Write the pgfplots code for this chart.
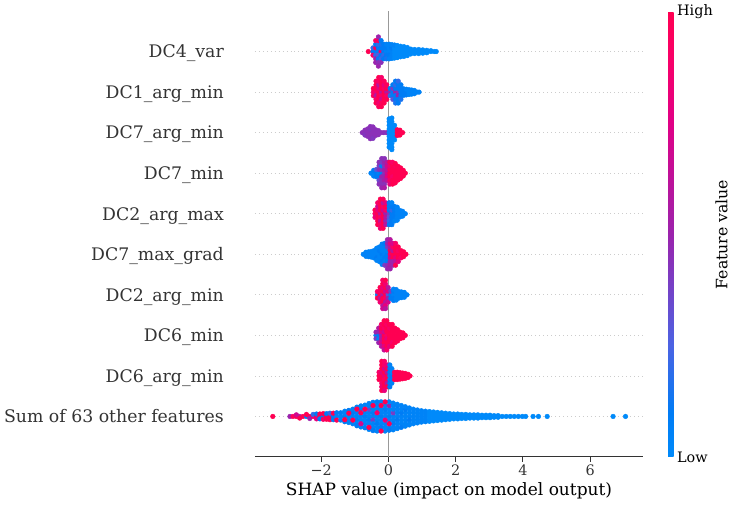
\documentclass[border=0pt]{standalone}
\usepackage{pgfplots}
\pgfplotsset{compat=1.18}
\usepackage{fontspec}
\setmainfont{DejaVu Serif}
\definecolor{axc}{HTML}{333333}
\definecolor{gridc}{HTML}{CCCCCC}
\definecolor{zeroc}{HTML}{999999}
\pgfplotsset{
  bees/.style={scatter, only marks, scatter src=explicit, mark=*, mark size=2.35pt,
    scatter/use mapped color={draw=mapped color, fill=mapped color},
    mark options={line width=0.4pt}},
}
\begin{document}
\begin{tikzpicture}
\begin{axis}[
  name=main,
  scale only axis,
  width=388pt, height=446pt,
  xmin=-3.97, xmax=7.57, ymin=-1, ymax=10,
  axis x line=bottom,
  axis y line=left,
  x axis line style={-, draw=axc, line width=1pt},
  y axis line style={draw=none},
  xtick={-2,0,2,4,6},
  xticklabels={−2,0,2,4,6},
  xtick align=outside,
  ytick align=inside,
  major tick length=4.6pt,
  xtick style={draw=axc, line width=1pt},
  ytick={0,1,2,3,4,5,6,7,8,9},
  yticklabels={Sum of 63 other features,DC6\_arg\_min,DC6\_min,DC2\_arg\_min,DC7\_max\_grad,DC2\_arg\_max,DC7\_min,DC7\_arg\_min,DC1\_arg\_min,DC4\_var},
  ytick style={draw=none},
  yticklabel style={font=\fontsize{17.3}{20}\selectfont, text=axc, anchor=base east, inner sep=0pt, xshift=-31pt, yshift=-6.3pt},
  xticklabel style={font=\fontsize{14.4}{17}\selectfont, text=axc},
  xlabel={SHAP value (impact on model output)},
  xlabel style={font=\fontsize{17}{20}\selectfont, text=black},
  ymajorgrids,
  grid style={draw=gridc, line width=0.65pt, dash pattern=on 0.65pt off 3.3pt},
  colormap={shap}{rgb255(0cm)=(0,138,250); rgb255(1cm)=(0,124,245); rgb255(2.5cm)=(75,99,227); rgb255(5cm)=(155,35,173); rgb255(7.5cm)=(224,0,134); rgb255(9cm)=(249,0,103); rgb255(10cm)=(255,0,82)},
  point meta min=0, point meta max=1,
  colorbar right,
  colorbar shift/.style={},
  colorbar style={
    at={(parent axis.north east)}, anchor=north west,
    xshift=25pt, yshift=-1pt,
    scale only axis,
    width=5.6pt, height=445pt,
    ytick={0,1}, yticklabels={Low,High},
    major tick length=0pt,
    axis line style={draw=none},
    yticklabel style={font=\fontsize{14.4}{17}\selectfont, text=black},
    ylabel={Feature value},
    every axis y label/.style={at={(axis description cs:1,0.5)}, anchor=center, xshift=48pt, rotate=90, font=\fontsize{15.7}{18}\selectfont, text=black},
  },
]
\addplot[draw=zeroc, line width=1.3pt, forget plot] coordinates {(0,-1) (0,10)};
% DC4_var
\addplot[bees] table[meta=c] {
x y c
-0.60 9.00 1
-0.46 9.00 0.1
-0.46 9.09 0.2
-0.46 8.91 0.9
-0.38 9.00 0.1
-0.38 9.09 0.95
-0.38 8.91 0.2
-0.38 9.18 0.1
-0.38 8.82 0.5
-0.38 9.27 0.9
-0.38 8.73 0.5
-0.30 9.00 0.1
-0.30 9.09 0.1
-0.30 8.91 0.3
-0.30 9.18 0.2
-0.30 8.82 0.1
-0.30 9.27 0.95
-0.30 8.73 0.45
-0.30 9.36 0.5
-0.30 8.64 0.5
-0.22 9.00 0.9
-0.22 9.09 0.1
-0.22 8.91 0.1
-0.22 9.18 0.15
-0.22 8.82 0.2
-0.22 9.27 0.1
-0.22 8.73 0.45
-0.14 9.00 0.1
-0.14 9.09 0.1
-0.14 8.91 0.2
-0.14 9.18 0.1
-0.14 8.82 0.1
-0.06 9.00 0.05
-0.06 9.09 0.1
-0.06 8.91 0.1
-0.06 9.18 0.05
-0.06 8.82 0.15
0.02 9.00 0.05
0.02 9.09 0.05
0.02 8.91 0.1
0.02 9.18 0.05
0.02 8.82 0.05
0.10 9.00 0.05
0.10 9.09 0.1
0.10 8.91 0.05
0.10 9.17 0.05
0.10 8.83 0.05
0.18 9.00 0
0.18 9.08 0
0.18 8.92 0
0.18 9.16 0.05
0.18 8.84 0
0.26 9.00 0
0.26 9.08 0
0.26 8.92 0
0.26 9.15 0
0.26 8.85 0
0.36 9.00 0
0.36 9.07 0
0.36 8.93 0
0.36 9.13 0
0.36 8.87 0
0.46 9.00 0
0.46 9.07 0
0.46 8.93 0
0.46 9.12 0
0.46 8.88 0
0.56 9.00 0
0.56 9.06 0
0.56 8.94 0
0.56 9.10 0
0.56 8.90 0
0.66 9.00 0
0.66 9.06 0
0.66 8.94 0
0.78 9.00 0
0.78 9.05 0
0.78 8.95 0
0.90 9.00 0
0.90 9.05 0
0.90 8.95 0
1.02 9.00 0
1.02 9.04 0
1.02 8.96 0
1.14 9.00 0
1.14 9.03 0
1.14 8.97 0
1.26 9.00 0
1.26 9.02 0
1.36 9.00 0
1.42 9.00 0
};
% DC1_arg_min
\addplot[bees] table[meta=c] {
x y c
-0.45 8.00 0.9
-0.45 8.09 1
-0.45 7.91 0.95
-0.37 8.00 0.85
-0.37 8.09 1
-0.37 7.91 0.6
-0.37 8.18 1
-0.37 7.82 0.9
-0.37 8.27 0.95
-0.37 7.73 1
-0.29 8.00 1
-0.29 8.09 0.8
-0.29 7.91 1
-0.29 8.18 0.6
-0.29 7.82 1
-0.29 8.27 0.9
-0.29 7.73 0.85
-0.29 8.36 1
-0.29 7.64 0.95
-0.21 8.00 0.6
-0.21 8.09 1
-0.21 7.91 0.9
-0.21 8.18 1
-0.21 7.82 0.7
-0.21 8.27 1
-0.21 7.73 0.95
-0.21 8.36 0.9
-0.21 7.64 1
-0.13 8.00 1
-0.13 8.09 0.9
-0.13 7.91 1
-0.13 8.18 0.8
-0.13 7.82 1
-0.13 8.27 0.95
-0.13 7.73 1
-0.05 8.00 0.6
-0.05 8.09 1
-0.05 7.91 0.9
-0.05 8.18 0.95
-0.05 7.82 1
0.05 8.00 0.5
0.05 8.09 0.1
0.05 7.91 0.2
0.13 8.00 0.1
0.13 8.09 0.4
0.13 7.91 0.1
0.13 8.18 0.1
0.13 7.82 0.3
0.21 8.00 0.5
0.21 8.09 0.1
0.21 7.91 0.1
0.21 8.18 0.2
0.21 7.82 0.1
0.21 8.27 0.1
0.21 7.73 0.15
0.29 8.00 0.45
0.29 8.09 0.1
0.29 7.91 0.5
0.29 8.18 0.1
0.29 7.82 0.1
0.29 8.27 0.2
0.29 7.73 0.1
0.37 8.00 0.1
0.37 8.09 0.1
0.37 7.91 0.1
0.37 8.18 0.1
0.37 7.82 0.15
0.45 8.00 0.1
0.45 8.08 0.1
0.45 7.92 0.1
0.53 8.00 0.1
0.53 8.07 0.05
0.53 7.93 0.1
0.61 8.00 0.05
0.61 8.06 0.05
0.61 7.94 0.05
0.69 8.00 0.05
0.69 8.05 0.05
0.69 7.95 0.05
0.77 8.00 0.05
0.77 8.04 0.05
0.77 7.96 0.05
0.85 8.00 0.05
0.91 8.00 0.05
};
% DC7_arg_min
\addplot[bees] table[meta=c] {
x y c
-0.78 7.00 0.45
-0.70 7.00 0.45
-0.70 7.06 0.45
-0.70 6.94 0.42
-0.62 7.00 0.45
-0.62 7.09 0.45
-0.62 6.91 0.45
-0.54 7.00 0.45
-0.54 7.09 0.42
-0.54 6.91 0.45
-0.54 7.15 0.45
-0.54 6.85 0.45
-0.46 7.00 0.45
-0.46 7.09 0.45
-0.46 6.91 0.45
-0.46 7.14 0.45
-0.46 6.86 0.42
-0.38 7.00 0.45
-0.38 7.07 0.45
-0.38 6.93 0.45
-0.30 7.00 0.45
-0.30 7.05 0.45
-0.30 6.95 0.45
-0.22 7.00 0.45
-0.14 7.00 0.45
-0.06 7.00 0.45
0.02 7.00 0
0.02 7.09 0
0.02 6.91 0
0.02 7.18 0
0.02 6.82 0
0.02 7.27 0
0.02 6.73 0
0.02 7.34 0
0.02 6.64 0
0.10 7.00 0
0.10 7.09 0
0.10 6.91 0
0.10 7.18 0
0.10 6.82 0
0.10 7.27 0
0.10 6.73 0
0.10 7.36 0
0.10 6.64 0
0.10 6.58 0
0.18 7.00 0
0.18 7.09 0
0.18 6.91 0
0.18 7.18 0
0.18 6.82 0
0.26 7.00 1
0.26 7.07 1
0.26 6.93 1
0.34 7.00 1
0.34 7.06 1
0.34 6.94 1
0.42 7.00 1
};
% DC7_min
\addplot[bees] table[meta=c] {
x y c
-0.52 6.00 0.05
-0.44 6.00 0.05
-0.44 6.07 0.1
-0.44 5.93 0.05
-0.36 6.00 0.1
-0.36 6.09 0.3
-0.36 5.91 0.1
-0.28 6.00 0.05
-0.28 6.09 0.45
-0.28 5.91 0.1
-0.28 6.18 0.4
-0.28 5.82 0.35
-0.28 6.27 0.45
-0.28 5.73 0.45
-0.20 6.00 0.1
-0.20 6.09 0.45
-0.20 5.91 0.5
-0.20 6.18 0.1
-0.20 5.82 0.45
-0.20 6.27 0.4
-0.20 5.73 0.45
-0.20 6.36 0.45
-0.20 5.64 0.5
-0.12 6.00 0.45
-0.12 6.09 0.55
-0.12 5.91 0.5
-0.12 6.18 0.45
-0.12 5.82 0.55
-0.12 6.27 0.5
-0.12 5.73 0.45
-0.12 6.36 0.45
-0.12 5.64 0.55
-0.04 6.00 0.7
-0.04 6.09 0.6
-0.04 5.91 0.75
-0.04 6.18 0.7
-0.04 5.82 0.6
-0.04 6.27 0.6
0.04 6.00 1
0.04 6.09 0.95
0.04 5.91 1
0.04 6.18 0.85
0.04 5.82 0.9
0.04 6.27 1
0.04 5.73 0.8
0.12 6.00 1
0.12 6.09 1
0.12 5.91 0.9
0.12 6.18 1
0.12 5.82 1
0.12 6.27 0.9
0.12 5.73 1
0.20 6.00 1
0.20 6.09 1
0.20 5.91 1
0.20 6.18 0.95
0.20 5.82 1
0.20 6.24 1
0.20 5.76 1
0.28 6.00 1
0.28 6.09 1
0.28 5.91 1
0.28 6.17 1
0.28 5.83 1
0.36 6.00 1
0.36 6.08 1
0.36 5.92 1
0.36 6.13 1
0.36 5.87 1
0.44 6.00 1
0.44 6.07 1
0.44 5.93 1
0.50 6.00 1
};
% DC2_arg_max
\addplot[bees] table[meta=c] {
x y c
-0.40 5.00 0.9
-0.40 5.09 1
-0.40 4.91 0.8
-0.32 5.00 1
-0.32 5.09 0.8
-0.32 4.91 1
-0.32 5.18 0.7
-0.32 4.82 1
-0.32 5.27 0.9
-0.32 4.73 1
-0.24 5.00 0.6
-0.24 5.09 1
-0.24 4.91 0.9
-0.24 5.18 1
-0.24 4.82 0.65
-0.24 5.27 1
-0.24 4.73 0.9
-0.24 5.36 1
-0.24 4.64 0.85
-0.16 5.00 1
-0.16 5.09 0.7
-0.16 4.91 1
-0.16 5.18 0.9
-0.16 4.82 1
-0.16 5.27 0.6
-0.16 4.73 1
-0.16 5.36 0.95
-0.16 4.64 1
-0.08 5.00 0.5
-0.08 5.09 0.9
-0.08 4.91 0.6
-0.08 5.18 1
-0.08 4.82 0.5
-0.08 5.27 0.8
-0.08 4.73 0.6
0.02 5.00 0.4
0.02 5.09 0.1
0.02 4.91 0.3
0.02 5.18 0.1
0.02 4.82 0.2
0.02 5.27 0.1
0.02 4.73 0.1
0.10 5.00 0.1
0.10 5.09 0.2
0.10 4.91 0.1
0.10 5.18 0.1
0.10 4.82 0.1
0.10 5.27 0.05
0.10 4.73 0.1
0.18 5.00 0.1
0.18 5.09 0.1
0.18 4.91 0.1
0.18 5.18 0.1
0.18 4.82 0.05
0.26 5.00 0.05
0.26 5.09 0.05
0.26 4.91 0.05
0.26 5.16 0.05
0.26 4.84 0.05
0.34 5.00 0.05
0.34 5.08 0.05
0.34 4.92 0.05
0.42 5.00 0.05
0.42 5.06 0.05
0.42 4.94 0.05
0.50 5.00 0.05
};
% DC7_max_grad
\addplot[bees] table[meta=c] {
x y c
-0.75 4.00 0.05
-0.67 4.00 0.05
-0.67 4.05 0.05
-0.67 3.95 0.05
-0.59 4.00 0.05
-0.59 4.06 0.05
-0.59 3.94 0.05
-0.51 4.00 0.05
-0.51 4.07 0.05
-0.51 3.93 0.05
-0.43 4.00 0.05
-0.43 4.09 0.05
-0.43 3.91 0.05
-0.35 4.00 0.05
-0.35 4.09 0.05
-0.35 3.91 0.1
-0.35 4.15 0.05
-0.35 3.85 0.05
-0.27 4.00 0.05
-0.27 4.09 0.1
-0.27 3.91 0.05
-0.27 4.18 0.05
-0.27 3.82 0.05
-0.19 4.00 0.1
-0.19 4.09 0.05
-0.19 3.91 0.05
-0.19 4.18 0.05
-0.19 3.82 0.1
-0.19 4.25 0.05
-0.19 3.75 0.05
-0.11 4.00 0.05
-0.11 4.09 0.05
-0.11 3.91 0.1
-0.11 4.18 0.05
-0.11 3.82 0.05
-0.11 4.27 0.1
-0.11 3.73 0.4
-0.03 4.00 0.1
-0.03 4.09 0.05
-0.03 3.91 0.1
-0.03 4.18 0.4
-0.03 3.82 0.1
-0.03 4.27 0.5
-0.03 3.73 0.45
-0.03 4.36 0.5
-0.03 3.64 0.5
0.05 4.00 0.9
0.05 4.09 1
0.05 3.91 0.7
0.05 4.18 0.6
0.05 3.82 0.5
0.05 4.27 0.8
0.05 3.73 0.55
0.05 4.36 0.6
0.05 3.64 0.5
0.13 4.00 1
0.13 4.09 0.6
0.13 3.91 1
0.13 4.18 0.9
0.13 3.82 0.5
0.13 4.27 0.7
0.13 3.73 0.5
0.21 4.00 1
0.21 4.09 1
0.21 3.91 0.8
0.21 4.18 1
0.21 3.82 0.6
0.21 4.27 0.9
0.21 3.73 1
0.29 4.00 1
0.29 4.09 0.9
0.29 3.91 1
0.29 4.18 1
0.29 3.82 0.8
0.37 4.00 1
0.37 4.09 1
0.37 3.91 0.9
0.45 4.00 1
0.45 4.06 1
0.45 3.94 1
0.52 4.00 1
};
% DC2_arg_min
\addplot[bees] table[meta=c] {
x y c
-0.33 3.00 0.05
-0.33 3.08 0.9
-0.33 2.92 1
-0.25 3.00 1
-0.25 3.09 0.9
-0.25 2.91 0.6
-0.25 3.18 1
-0.25 2.82 0.85
-0.17 3.00 0.6
-0.17 3.09 1
-0.17 2.91 1
-0.17 3.18 0.8
-0.17 2.82 1
-0.17 3.27 1
-0.17 2.73 0.6
-0.17 3.36 0.9
-0.17 2.66 0.7
-0.09 3.00 1
-0.09 3.09 0.7
-0.09 2.91 0.9
-0.09 3.18 1
-0.09 2.82 0.6
-0.09 3.27 0.85
-0.09 2.73 0.8
-0.09 3.36 1
-0.09 2.66 0.6
-0.01 3.00 0.3
-0.01 3.09 0.8
-0.01 2.91 0.5
-0.01 3.18 0.6
-0.01 2.82 0.7
0.07 3.00 0.1
0.07 3.09 0.4
0.07 2.91 0.1
0.15 3.00 0.05
0.15 3.09 0.1
0.15 2.91 0.1
0.15 3.14 0.05
0.15 2.86 0.1
0.23 3.00 0.05
0.23 3.09 0.05
0.23 2.91 0.05
0.23 3.13 0.05
0.23 2.87 0.05
0.31 3.00 0.05
0.31 3.08 0.05
0.31 2.92 0.05
0.39 3.00 0.05
0.39 3.07 0.05
0.39 2.93 0.05
0.47 3.00 0.05
0.47 3.06 0.05
0.47 2.94 0.05
0.55 3.00 0.05
};
% DC6_min
\addplot[bees] table[meta=c] {
x y c
-0.37 2.00 0.05
-0.37 2.08 0.5
-0.37 1.92 0.4
-0.29 2.00 0.1
-0.29 2.09 0.5
-0.29 1.91 0.05
-0.29 2.18 0.6
-0.29 1.82 0.5
-0.21 2.00 0.5
-0.21 2.09 0.8
-0.21 1.91 0.6
-0.21 2.18 1
-0.21 1.82 0.7
-0.21 2.27 0.9
-0.21 1.73 0.6
-0.13 2.00 1
-0.13 2.09 0.7
-0.13 1.91 1
-0.13 2.18 0.9
-0.13 1.82 1
-0.13 2.27 1
-0.13 1.73 0.8
-0.13 2.36 1
-0.13 1.64 0.65
-0.05 2.00 0.9
-0.05 2.09 1
-0.05 1.91 0.8
-0.05 2.18 1
-0.05 1.82 1
-0.05 2.27 0.9
-0.05 1.73 1
-0.05 2.36 1
-0.05 1.64 0.9
0.03 2.00 1
0.03 2.09 1
0.03 1.91 1
0.03 2.18 0.9
0.03 1.82 1
0.03 2.27 1
0.03 1.73 0.8
0.11 2.00 1
0.11 2.09 1
0.11 1.91 1
0.11 2.18 1
0.11 1.82 0.9
0.11 2.27 1
0.11 1.73 1
0.19 2.00 1
0.19 2.09 1
0.19 1.91 1
0.19 2.18 1
0.19 1.82 1
0.27 2.00 1
0.27 2.09 1
0.27 1.91 1
0.27 2.14 1
0.27 1.86 1
0.35 2.00 1
0.35 2.08 1
0.35 1.92 1
0.43 2.00 1
0.43 2.06 1
0.43 1.94 1
0.50 2.00 1
};
% DC6_arg_min
\addplot[bees] table[meta=c] {
x y c
-0.28 1.00 1
-0.28 1.09 0.9
-0.28 0.91 1
-0.20 1.00 1
-0.20 1.09 0.8
-0.20 0.91 1
-0.20 1.18 1
-0.20 0.82 0.9
-0.20 1.27 1
-0.20 0.73 0.85
-0.20 1.36 1
-0.20 0.64 1
-0.12 1.00 0.8
-0.12 1.09 1
-0.12 0.91 0.9
-0.12 1.18 0.7
-0.12 0.82 1
-0.12 1.27 0.9
-0.12 0.73 1
-0.12 1.36 0.9
-0.12 0.64 0.8
-0.04 1.00 1
-0.04 1.09 0.6
-0.04 0.91 1
-0.04 1.18 1
-0.04 0.82 0.6
-0.04 1.27 0.8
-0.04 0.73 1
0.04 1.00 0.05
0.04 1.09 0.1
0.04 0.91 0.05
0.04 1.18 0.1
0.04 0.82 0.1
0.04 1.27 0.05
0.04 0.73 0.1
0.10 1.00 0.1
0.10 1.09 0.05
0.10 0.91 0.1
0.10 1.18 0.05
0.10 0.82 0.05
0.18 1.00 1
0.18 1.09 1
0.18 0.91 1
0.26 1.00 1
0.26 1.09 1
0.26 0.91 1
0.34 1.00 1
0.34 1.08 1
0.34 0.92 1
0.42 1.00 1
0.42 1.07 1
0.42 0.93 1
0.50 1.00 1
0.50 1.06 1
0.50 0.94 1
0.58 1.00 1
0.58 1.04 1
0.58 0.96 1
0.64 1.00 1
};
% Sum of 63 other features
\addplot[bees] table[meta=c] {
x y c
-3.44 0.00 1
-2.93 0.00 0.5
-2.84 0.00 0.95
-2.74 0.00 1
-2.74 0.04 0.7
-2.64 0.00 0.6
-2.64 -0.04 1
-2.54 0.00 1
-2.44 0.00 0.1
-2.44 0.05 1
-2.34 0.00 1
-2.34 -0.05 0.5
-2.24 0.00 0.9
-2.24 0.05 0.2
-2.14 0.00 1
-2.14 -0.06 0.8
-2.14 0.06 0.1
-2.04 0.00 1
-2.04 0.06 1
-2.04 -0.06 0.1
-1.94 0.00 0.1
-1.94 0.07 1
-1.94 -0.07 0.9
-1.84 0.00 1
-1.84 0.07 0.1
-1.84 -0.07 1
-1.74 0.00 1
-1.74 0.08 0.2
-1.74 -0.08 1
-1.64 0.00 0.1
-1.64 0.08 1
-1.64 -0.08 0.1
-1.54 0.00 0.05
-1.54 0.09 0.1
-1.54 -0.09 1
-1.42 0.00 0.05
-1.42 0.09 0.1
-1.42 -0.09 0.05
-1.30 0.00 0.1
-1.30 0.08 0.05
-1.30 0.13 0.05
-1.30 -0.13 0.1
-1.18 0.00 0.05
-1.18 -0.08 0.05
-1.18 0.15 0.1
-1.18 -0.15 0.05
-1.06 0.00 0.05
-1.06 0.09 0.1
-1.06 0.18 0.05
-1.06 -0.18 0.05
-0.94 0.00 0.05
-0.94 0.09 0.05
-0.94 -0.09 0.1
-0.94 -0.18 0.05
-0.94 0.23 0.05
-0.94 -0.23 0.1
-0.82 0.00 0.05
-0.82 -0.09 0.05
-0.82 0.18 0.1
-0.82 0.26 0.05
-0.82 -0.26 0.05
-0.70 0.00 0.1
-0.70 0.09 0.05
-0.70 -0.09 0.05
-0.70 -0.18 0.05
-0.70 0.28 0.05
-0.70 -0.28 0.1
-0.58 0.00 0.05
-0.58 0.09 0.05
-0.58 -0.09 0.1
-0.58 0.18 0.35
-0.58 -0.18 0.05
-0.58 0.27 0.05
-0.58 0.32 0.05
-0.58 -0.32 0.05
-0.46 0.00 0.05
-0.46 0.09 0.1
-0.46 -0.09 0.4
-0.46 0.18 0.05
-0.46 -0.18 0.05
-0.46 -0.27 0.05
-0.46 0.35 0.05
-0.46 -0.35 0.1
-0.34 0.00 0.05
-0.34 -0.09 0.05
-0.34 0.18 0.05
-0.34 -0.18 0.1
-0.34 0.27 0.05
-0.34 -0.27 0.05
-0.34 0.36 0.1
-0.34 -0.36 0.05
-0.22 0.00 0.1
-0.22 0.09 0.05
-0.22 -0.09 0.05
-0.22 0.18 0.05
-0.22 -0.18 0.05
-0.22 -0.27 0.1
-0.22 0.36 0.05
-0.10 0.00 0.05
-0.10 0.09 0.05
-0.10 0.18 0.1
-0.10 -0.18 0.05
-0.10 0.27 0.05
-0.10 -0.27 0.05
-0.10 -0.36 0.05
0.02 0.00 0.1
0.02 0.09 0.05
0.02 -0.09 0.05
0.02 0.18 0.05
0.02 0.27 0.5
0.02 -0.27 0.05
0.02 0.36 0.05
0.02 -0.34 0.1
0.14 0.00 0.05
0.14 0.09 0.4
0.14 -0.09 0.05
0.14 0.18 0.05
0.14 -0.18 0.1
0.14 0.27 0.05
0.14 -0.27 0.05
0.14 0.33 0.05
0.14 -0.33 0.05
0.26 0.00 0.05
0.26 0.09 0.05
0.26 -0.09 0.1
0.26 0.18 0.05
0.26 -0.18 0.05
0.26 0.27 0.1
0.26 -0.27 0.05
0.26 0.30 0.05
0.26 -0.30 0.05
0.38 0.00 0.05
0.38 0.09 0.1
0.38 -0.09 0.05
0.38 0.18 0.05
0.38 -0.18 0.05
0.38 0.27 0.05
0.38 -0.27 0.1
0.50 0.00 0.05
0.50 0.09 0.05
0.50 -0.09 0.05
0.50 0.18 0.1
0.50 -0.18 0.05
0.50 0.24 0.05
0.50 -0.24 0.05
0.62 0.00 0.05
0.62 0.09 0.05
0.62 -0.09 0.1
0.62 0.18 0.05
0.62 -0.18 0.05
0.62 0.21 0.05
0.62 -0.21 0.05
0.74 0.00 0.05
0.74 0.09 0.05
0.74 -0.09 0.05
0.74 0.18 0.05
0.74 -0.18 0.05
0.86 0.00 0.05
0.86 0.08 0.05
0.86 -0.08 0.05
0.86 0.16 0.05
0.86 -0.16 0.05
0.98 0.00 0.05
0.98 0.07 0.05
0.98 -0.07 0.05
0.98 0.14 0.05
0.98 -0.14 0.05
1.10 0.00 0.05
1.10 0.07 0.05
1.10 -0.07 0.05
1.10 0.13 0.05
1.10 -0.13 0.05
1.22 0.00 0
1.22 0.06 0
1.22 -0.06 0
1.22 0.12 0
1.22 -0.12 0
1.34 0.00 0
1.34 0.06 0
1.34 -0.06 0
1.34 0.11 0
1.34 -0.11 0
1.46 0.00 0
1.46 0.05 0
1.46 -0.05 0
1.46 0.10 0
1.46 -0.10 0
1.58 0.00 0
1.58 0.05 0
1.58 -0.05 0
1.58 0.09 0
1.58 -0.09 0
1.70 0.00 0
1.70 0.04 0
1.70 -0.04 0
1.70 0.08 0
1.70 -0.08 0
1.82 0.00 0
1.82 0.04 0
1.82 -0.04 0
1.82 0.07 0
1.82 -0.07 0
1.94 0.00 0
1.94 0.06 0
1.94 -0.06 0
2.06 0.00 0
2.06 0.06 0
2.06 -0.06 0
2.18 0.00 0
2.18 0.05 0
2.18 -0.05 0
2.30 0.00 0
2.30 0.05 0
2.30 -0.05 0
2.42 0.00 0
2.42 0.04 0
2.42 -0.04 0
2.54 0.00 0
2.54 0.04 0
2.54 -0.04 0
2.66 0.00 0
2.66 0.04 0
2.66 -0.04 0
2.78 0.00 0
2.78 0.03 0
2.78 -0.03 0
2.90 0.00 0
2.90 0.03 0
2.90 -0.03 0
3.02 0.00 0
3.02 0.03 0
3.02 -0.03 0
3.14 0.00 0
3.14 0.02 0
3.14 -0.02 0
3.26 0.00 0
3.26 0.02 0
3.26 -0.02 0
3.38 0.00 0
3.50 0.00 0
3.62 0.00 0
3.74 0.00 0
3.86 0.00 0
3.98 0.00 0
4.08 0.00 0
4.30 0.00 0
4.46 0.00 0
4.72 0.00 0
6.68 0.00 0
7.05 0.00 0
-1.30 -0.08 1
-1.18 0.08 1
-1.06 -0.09 1
-0.94 0.18 1
-0.82 0.09 1
-0.82 -0.18 0.7
-0.70 0.18 1
-0.58 -0.27 1
-0.46 0.27 1
-0.34 0.09 0.9
-0.22 0.27 1
-0.22 -0.36 1
-0.10 0.36 1
-0.10 -0.09 0.8
0.02 -0.18 1
};
\end{axis}
\pgfresetboundingbox
\path[use as bounding box] ([shift={(-255pt,-48pt)}]main.south west) rectangle ([shift={(91pt,11pt)}]main.north east);
\end{tikzpicture}
\end{document}
